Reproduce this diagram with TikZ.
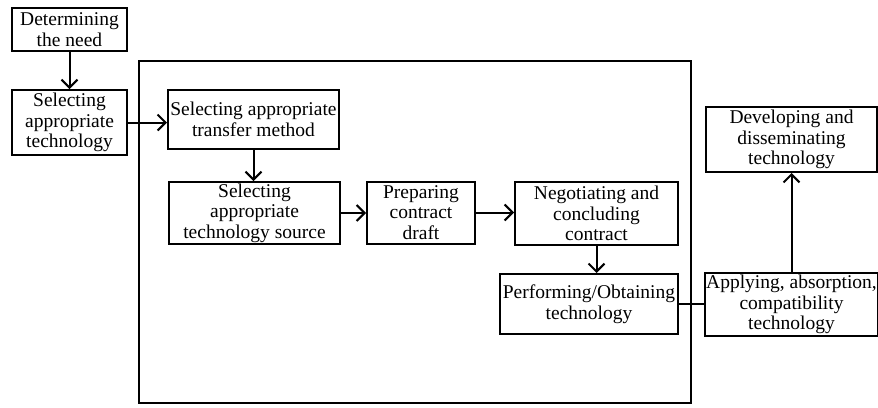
\documentclass[tikz,border=0pt]{standalone}
\usepackage{fontspec}
\setmainfont{Liberation Serif}
\usetikzlibrary{arrows.meta}
\tikzstyle{stage}=[rectangle, draw, line width=2pt, align=center, inner sep=1pt, font=\fontsize{19.5}{20.5}\selectfont]
\tikzstyle{flow}=[line width=2pt, -{Straight Barb[length=8pt,width=16pt,line width=2pt]}]
\newcommand{\stage}{\node[stage]}

\begin{document}
\begin{tikzpicture}[x=1pt,y=-1pt]
\useasboundingbox (0,0) rectangle (878,407);
%outer frame
\draw[line width=2pt] (139,61) rectangle (691,403);
\stage (need) at (69.5,29.5) [minimum width=115pt, minimum height=43pt]{Determining\\the need};
\stage (tech) at (69.5,122.5) [minimum width=115pt, minimum height=65pt]{Selecting\\appropriate\\technology};
\stage (method) at (253.5,119.5) [minimum width=171pt, minimum height=59pt]{Selecting appropriate\\transfer method};
\stage (source) at (254.5,213) [minimum width=171pt, minimum height=62pt]{Selecting\\appropriate\\technology source};
\stage (draft) at (421,212.5) [minimum width=108pt, minimum height=62pt]{Preparing\\contract\\draft};
\stage (negot) at (596.5,213.5) [minimum width=163pt, minimum height=63pt]{Negotiating and\\concluding\\contract};
\stage (perform) at (589,304) [minimum width=178pt, minimum height=60pt]{Performing/Obtaining\\technology};
\stage (apply) at (791.5,304.5) [minimum width=171pt, minimum height=63pt]{Applying, absorption,\\compatibility\\technology};
\stage (develop) at (791.5,139.5) [minimum width=171pt, minimum height=65pt]{Developing and\\disseminating\\technology};
%arrows
\draw[flow] (need) -- (tech);
\draw[flow] (tech.east) -- (tech.east -| method.west);
\draw[flow] (method.south) -- (method.south |- source.north);
\draw[flow] (source.east) -- (source.east -| draft.west);
\draw[flow] (draft.east) -- (draft.east -| negot.west);
\draw[flow] (negot.south) -- (negot.south |- perform.north);
\draw[line width=2pt] (perform.east) -- (perform.east -| apply.west);
\draw[flow] (apply.north) -- (develop.south);
\end{tikzpicture}
\end{document}
